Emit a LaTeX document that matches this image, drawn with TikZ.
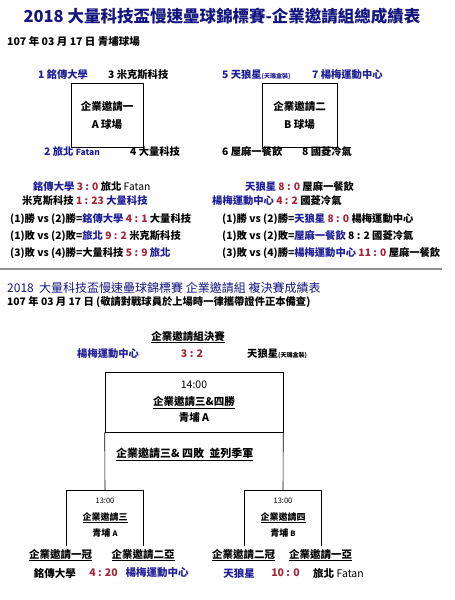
\documentclass[tikz,border=0pt]{standalone}
\usepackage{fontspec}
\setmainfont{Noto Sans CJK TC}
\usetikzlibrary{positioning}
\definecolor{teamblue}{RGB}{30,30,150}
\definecolor{titleblue}{RGB}{22,22,128}
\definecolor{scorered}{RGB}{165,35,55}
\definecolor{rulegray}{RGB}{145,145,145}
\newcommand{\tb}[1]{\textcolor{teamblue}{#1}}
\newcommand{\sr}[1]{\textcolor{scorered}{#1}}
\newcommand{\ul}[1]{\underline{#1}}

\begin{document}
\begin{tikzpicture}[x=1pt, y=-1pt,
    lbl/.style={inner sep=0pt, anchor=west, font=\fontsize{10.3}{12}\selectfont\bfseries},
    ctr/.style={inner sep=0pt, font=\fontsize{10.5}{12}\selectfont\bfseries},
    grpbox/.style={draw, line width=0.6pt, minimum height=64pt, align=center, inner sep=0pt,
        font=\fontsize{10.5}{18}\selectfont\bfseries},
    semibox/.style={minimum width=77pt, minimum height=56pt, align=center, inner sep=0pt}]
    \useasboundingbox (0,0) rectangle (455,600);

    % Header
    \node[ctr, font=\fontsize{16.5}{18}\selectfont\bfseries, text=titleblue] (title) at (222,16)
        {2018 大量科技盃慢速壘球錦標賽-企業邀請組總成績表};
    \node[lbl, font=\fontsize{10.5}{12}\selectfont\bfseries] (date) at (7,42) {107 年 03 月 17 日 青埔球場};

    % Group boxes
    \node[grpbox, minimum width=72pt] (gA) at (107,115) {企業邀請一\\A 球場};
    \node[grpbox, minimum width=75pt] (gB) at (299.5,115) {企業邀請二\\B 球場};
    \node[lbl, text=teamblue] (t1) at (38,75) {1 銘傳大學};
    \node[lbl] (t3) at (108,75) {3 米克斯科技};
    \node[lbl, text=teamblue] (t2) at (44,152) {2 旅北 {\fontsize{8.5}{10}\selectfont Fatan}};
    \node[lbl] (t4) at (130,152) {4 大量科技};
    \node[lbl, text=teamblue] (t5) at (222,75) {5 天狼星{\fontsize{6}{7}\selectfont(天璣盒裝)}};
    \node[lbl, text=teamblue] (t7) at (312,75) {7 楊梅運動中心};
    \node[lbl] (t6) at (222,152) {6 屋麻一餐飲};
    \node[lbl] (t8) at (302,152) {8 國菱冷氣};

    % Group results
    \node[lbl] (rA1) at (33,187) {\tb{銘傳大學} \sr{3 : 0} 旅北 {\mdseries Fatan}};
    \node[lbl] (rA2) at (22,201) {米克斯科技 \sr{1 : 23} \tb{大量科技}};
    \node[lbl] (rA3) at (10,219) {(1)勝 vs (2)勝=\tb{銘傳大學} \sr{4 : 1} 大量科技};
    \node[lbl] (rA4) at (10,236) {(1)敗 vs (2)敗=\tb{旅北} \sr{9 : 2} 米克斯科技};
    \node[lbl] (rA5) at (10,253) {(3)敗 vs (4)勝=大量科技 \sr{5 : 9} \tb{旅北}};
    \node[lbl] (rB1) at (245,187) {\tb{天狼星} \sr{8 : 0} 屋麻一餐飲};
    \node[lbl] (rB2) at (212,201) {\tb{楊梅運動中心} \sr{4 : 2} 國菱冷氣};
    \node[lbl] (rB3) at (222,219) {(1)勝 vs (2)勝=\tb{天狼星} \sr{8 : 0} 楊梅運動中心};
    \node[lbl] (rB4) at (222,236) {(1)敗 vs (2)敗=\tb{屋麻一餐飲} 8 : 2 國菱冷氣};
    \node[lbl] (rB5) at (222,253) {(3)敗 vs (4)勝=\tb{楊梅運動中心} \sr{11 : 0} 屋麻一餐飲};

    \draw[rulegray, line width=2pt] (0,269) -- (442,269);

    % Playoff header
    \node[lbl, font=\fontsize{12}{14}\selectfont, text=titleblue] (title2) at (7,288)
        {2018\ \ 大量科技盃慢速壘球錦標賽\ 企業邀請組\ 複決賽成績表};
    \node[lbl, font=\fontsize{10.3}{12}\selectfont\bfseries] (date2) at (7,302)
        {107 年 03 月 17 日 (敬請對戰球員於上場時一律攜帶證件正本備查)};

    % Final
    \node[ctr] (fin) at (188,337) {\ul{企業邀請組決賽}};
    \node[lbl, text=teamblue] (finL) at (77,354) {楊梅運動中心};
    \node[ctr, text=scorered] (finS) at (192,354) {3 : 2};
    \node[lbl] (finR) at (247,354) {天狼星{\fontsize{6}{7}\selectfont(天璣盒裝)}};

    \node[grpbox, minimum width=178pt, minimum height=60pt, font=\fontsize{10.5}{16.5}\selectfont\bfseries]
        (fb) at (194,402) {{\mdseries 14:00}\\\ul{企業邀請三\&四勝}\\青埔 A};
    \node[lbl, font=\fontsize{11}{12}\selectfont\bfseries] (third) at (116,454) {\ul{企業邀請三\& 四敗\ \ 並列季軍}};

    % Semifinals
    \node[semibox, font=\fontsize{9}{16.5}\selectfont\bfseries] (s3) at (105,518)
        {{\fontsize{7.5}{9}\selectfont\mdseries 13:00}\\\ul{企業邀請三}\\青埔 {\fontsize{7.5}{9}\selectfont A}};
    \node[semibox, font=\fontsize{9}{16.5}\selectfont\bfseries] (s4) at (283,518)
        {{\fontsize{7.5}{9}\selectfont\mdseries 13:00}\\\ul{企業邀請四}\\青埔 {\fontsize{7.5}{9}\selectfont B}};
    \draw[line width=0.6pt] (s3.south west) |- (s3.north east) -- (s3.south east);
    \draw[line width=0.6pt] (s4.south west) |- (s4.north east) -- (s4.south east);
    \draw[line width=0.6pt] (fb.south west) -- (s3.north);
    \draw[line width=0.6pt] (fb.south east) -- (s4.north);

    \node[ctr] (c1) at (60.5,555) {\ul{企業邀請一冠}};
    \node[ctr] (c2) at (143,555) {\ul{企業邀請二亞}};
    \node[ctr] (c3) at (243.5,555) {\ul{企業邀請二冠}};
    \node[ctr] (c4) at (320.5,555) {\ul{企業邀請一亞}};
    \node[ctr] (m1) at (55,573) {銘傳大學};
    \node[ctr, text=scorered] (m1s) at (103.5,573) {4 : 20};
    \node[ctr, text=teamblue] (m1b) at (157,573) {楊梅運動中心};
    \node[ctr, text=teamblue] (m2) at (239,573) {天狼星};
    \node[ctr, text=scorered] (m2s) at (285.5,573) {10 : 0};
    \node[ctr] (m2b) at (338.5,573) {旅北 {\mdseries Fatan}};
\end{tikzpicture}
\end{document}
